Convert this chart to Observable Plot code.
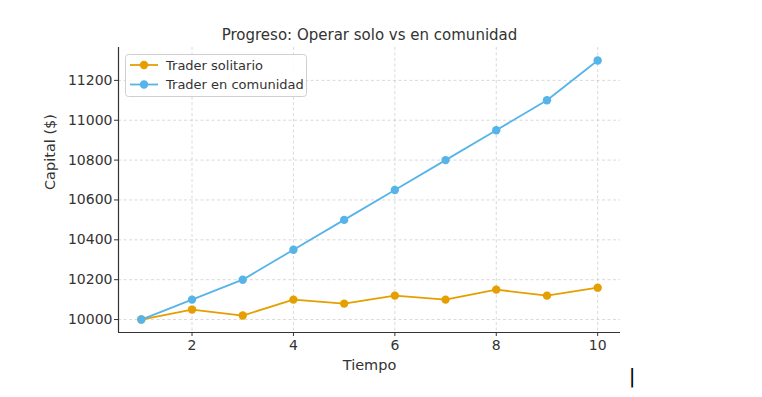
<!DOCTYPE html>
<html>
<head>
<meta charset="utf-8">
<script src="https://cdn.jsdelivr.net/npm/d3@7"></script>
<script src="https://cdn.jsdelivr.net/npm/@observablehq/plot@0.6"></script>
<style>
  html, body { margin: 0; padding: 0; background: #fff; }
  #chart svg { display: block; }
</style>
</head>
<body>
<div id="chart"></div>
<script>
const titleText = "Progreso: Operar solo vs en comunidad";
const xLabel = "Tiempo";
const yLabel = "Capital ($)";
const periods = [1, 2, 3, 4, 5, 6, 7, 8, 9, 10];
const soloValues = [10000, 10050, 10020, 10100, 10080, 10120, 10100, 10150, 10120, 10160];
const comunidadValues = [10000, 10100, 10200, 10350, 10500, 10650, 10800, 10950, 11100, 11300];
const seriesNames = ["Trader solitario", "Trader en comunidad"];
const seriesColors = ["#E69F00", "#56B4E9"];
const xTicks = [2, 4, 6, 8, 10];
const yTicks = [10000, 10200, 10400, 10600, 10800, 11000, 11200];

const rows = [];
periods.forEach((t, i) => {
  rows.push({t, v: soloValues[i], s: seriesNames[0]});
  rows.push({t, v: comunidadValues[i], s: seriesNames[1]});
});

const xDomain = [0.55, 10.45];
const yDomain = [9935, 11365];
const ink = "#333333";

const plot = Plot.plot({
  width: 762,
  height: 397,
  marginLeft: 118,
  marginRight: 142,
  marginTop: 47,
  marginBottom: 65,
  style: {fontFamily: "DejaVu Sans, sans-serif", fontSize: "14px", color: ink, background: "#fff"},
  x: {domain: xDomain, label: null},
  y: {domain: yDomain, label: null},
  color: {domain: seriesNames, range: seriesColors},
  marks: [
    Plot.gridX(xTicks, {stroke: "#b0b0b0", strokeOpacity: 0.6, strokeDasharray: "3,2.5", strokeWidth: 0.8}),
    Plot.gridY(yTicks, {stroke: "#b0b0b0", strokeOpacity: 0.6, strokeDasharray: "3,2.5", strokeWidth: 0.8}),
    Plot.axisX(xTicks, {tickSize: 4, tickPadding: 4, tickFormat: d => String(d), fontSize: 14, stroke: ink, fill: ink, label: null}),
    Plot.axisY(yTicks, {tickSize: 4, tickPadding: 2, tickFormat: d => String(d), fontSize: 14, stroke: ink, fill: ink, label: null}),
    Plot.ruleY([yDomain[0]], {stroke: ink, strokeWidth: 1.2}),
    Plot.ruleX([xDomain[0]], {stroke: ink, strokeWidth: 1.2}),
    Plot.line(rows, {x: "t", y: "v", stroke: "s", z: "s", strokeWidth: 1.8}),
    Plot.dot(rows, {x: "t", y: "v", fill: "s", r: 4.2}),
    Plot.text([titleText], {frameAnchor: "top", lineAnchor: "middle", dy: -12, fontSize: 15, fill: ink}),
    Plot.text([xLabel], {frameAnchor: "bottom", lineAnchor: "middle", dy: 33, fontSize: 14.5, fill: ink}),
    Plot.text([yLabel], {frameAnchor: "left", lineAnchor: "middle", dx: -68, rotate: -90, fontSize: 14.5, fill: ink})
  ]
});

document.getElementById("chart").appendChild(plot);

// Legend (upper left, inside plot area)
const svg = d3.select(plot.tagName.toLowerCase() === "svg" ? plot : plot.querySelector("svg"));
const lg = svg.append("g").attr("font-family", "DejaVu Sans, sans-serif").attr("font-size", 13)
  .attr("text-anchor", "start");
lg.append("rect").attr("x", 125.5).attr("y", 54.5).attr("width", 181).attr("height", 42)
  .attr("rx", 3).attr("fill", "#fff").attr("fill-opacity", 0.85).attr("stroke", "#d0d0d0");
seriesNames.forEach((name, i) => {
  const y = 65 + i * 19.5;
  lg.append("line").attr("x1", 130).attr("x2", 158).attr("y1", y).attr("y2", y)
    .attr("stroke", seriesColors[i]).attr("stroke-width", 1.8);
  lg.append("circle").attr("cx", 144).attr("cy", y).attr("r", 4.2).attr("fill", seriesColors[i]);
  lg.append("text").attr("x", 166).attr("y", y).attr("dy", "0.35em").attr("text-anchor", "start")
    .attr("fill", ink).text(name);
});
// stray cursor glyph seen in the reference
svg.append("text").attr("x", 632).attr("y", 376).attr("dy", "0.35em").attr("text-anchor", "middle")
  .attr("font-family", "DejaVu Sans, sans-serif").attr("font-size", 20).attr("fill", "#000").text("|");
</script>
</body>
</html>
